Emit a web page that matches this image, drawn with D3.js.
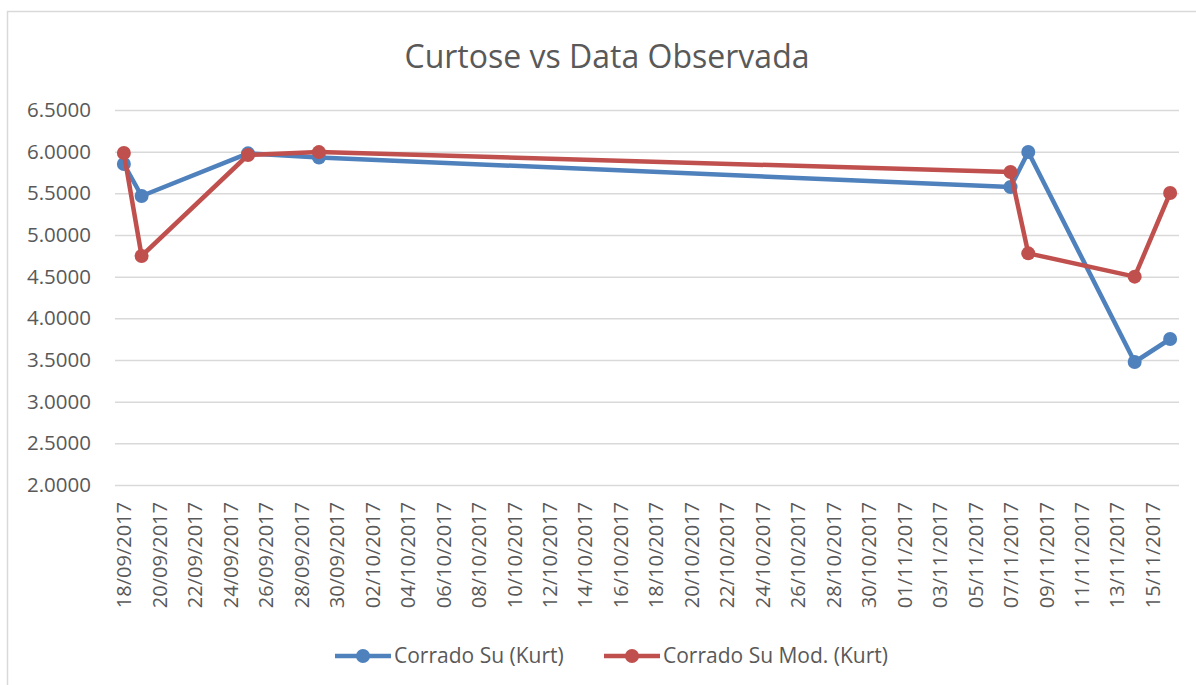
<!DOCTYPE html>
<html>
<head>
<meta charset="utf-8">
<script src="https://cdn.jsdelivr.net/npm/d3@7"></script>
<style>
  body { margin: 0; background: #fff; }
  text { font-family: "Open Sans", "Liberation Sans", sans-serif; fill: #595959; }
</style>
</head>
<body>
<svg id="chart" width="1196" height="685"></svg>
<script>
// observation dates (dd/mm/yyyy)
const dates = ['18/09/2017', '19/09/2017', '25/09/2017', '29/09/2017',
               '07/11/2017', '08/11/2017', '14/11/2017', '16/11/2017'];
const kurtSu = [5.852, 5.468, 5.98, 5.93, 5.576, 5.996, 3.476, 3.752];
const kurtSuMod = [5.984, 4.748, 5.96, 5.995, 5.756, 4.78, 4.50, 5.504];
const yTicks = [2.0, 2.5, 3.0, 3.5, 4.0, 4.5, 5.0, 5.5, 6.0, 6.5];
const seriesNames = ['Corrado Su (Kurt)', 'Corrado Su Mod. (Kurt)'];
const colors = ['#4f81bd', '#c0504d'];

const parse = d3.timeParse('%d/%m/%Y');
const fmt = d3.timeFormat('%d/%m/%Y');

const PLOT = {left: 115, right: 1179, top: 110, bottom: 485};

const svg = d3.select('#chart');

// chart frame
svg.append('rect')
    .attr('x', 7.5).attr('y', 11.5)
    .attr('width', 1300).attr('height', 800)
    .attr('fill', 'none')
    .attr('stroke', '#d9d9d9')
    .attr('stroke-width', 1.5);

const firstDay = parse(dates[0]);
const lastDay = parse(dates[dates.length - 1]);

const x = d3.scaleTime()
    .domain([d3.timeHour.offset(firstDay, -12), d3.timeHour.offset(lastDay, 12)])
    .range([PLOT.left, PLOT.right]);

const y = d3.scaleLinear()
    .domain([2, 6.5])
    .range([PLOT.bottom, PLOT.top]);

// gridlines + y labels
svg.append('g')
    .attr('transform', `translate(${PLOT.left}, 0)`)
    .call(d3.axisLeft(y).tickValues(yTicks).tickSize(-(PLOT.right - PLOT.left)).tickFormat(d3.format('.4f')))
    .call(g => g.select('.domain').remove())
    .call(g => g.selectAll('.tick line').attr('stroke', '#d9d9d9').attr('stroke-width', 1.5))
    .call(g => g.selectAll('.tick text')
        .attr('x', -24)
        .style('font-size', '20.5px')
        .style('fill', '#595959'));

// x axis, tick every 2 days
const xTickDates = d3.timeDay.range(firstDay, d3.timeDay.offset(lastDay, 1), 2);

svg.append('g')
    .attr('transform', `translate(0, ${PLOT.bottom})`)
    .call(d3.axisBottom(x).tickValues(xTickDates).tickSize(0).tickFormat(fmt))
    .call(g => g.select('.domain').remove())
    .call(g => g.selectAll('.tick text')
        .attr('transform', 'rotate(-90)')
        .attr('x', -17)
        .attr('y', 0)
        .attr('dy', '0.35em')
        .attr('text-anchor', 'end')
        .style('font-size', '20px')
        .style('fill', '#595959'));

// series
const series = [kurtSu, kurtSuMod];
const line = d3.line()
    .x((d, i) => x(parse(dates[i])))
    .y(d => y(d));

series.forEach((values, s) => {
    svg.append('path')
        .datum(values)
        .attr('fill', 'none')
        .attr('stroke', colors[s])
        .attr('stroke-width', 4.5)
        .attr('stroke-linejoin', 'round')
        .attr('d', line);

    svg.append('g')
        .selectAll('circle')
        .data(values)
        .enter()
        .append('circle')
        .attr('cx', (d, i) => x(parse(dates[i])))
        .attr('cy', d => y(d))
        .attr('r', 7)
        .attr('fill', colors[s]);
});

// title
svg.append('text')
    .attr('x', 607)
    .attr('y', 68)
    .attr('text-anchor', 'middle')
    .style('font-size', '32px')
    .text('Curtose vs Data Observada');

// legend
const legendX = [335, 604];
seriesNames.forEach((name, s) => {
    const lg = svg.append('g').attr('transform', `translate(${legendX[s]}, 656)`);
    lg.append('line')
        .attr('x1', 0).attr('x2', 56)
        .attr('stroke', colors[s])
        .attr('stroke-width', 4.5);
    lg.append('circle')
        .attr('cx', 28).attr('r', 7)
        .attr('fill', colors[s]);
    lg.append('text')
        .attr('x', 59)
        .attr('dy', '0.35em')
        .style('font-size', '21px')
        .text(name);
});
</script>
</body>
</html>
